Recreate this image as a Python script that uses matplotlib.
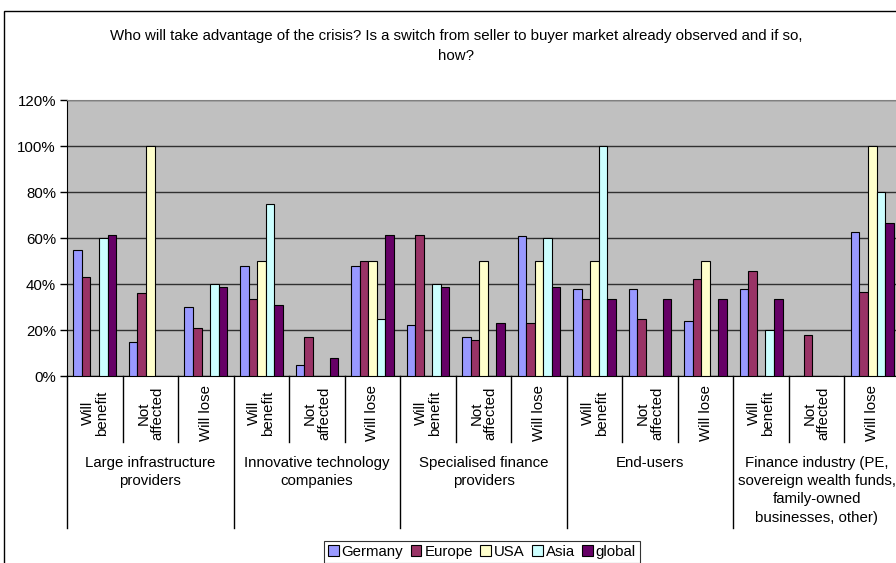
import matplotlib.pyplot as plt
import matplotlib.patches as mpatches
import matplotlib.transforms as mtransforms
import numpy as np

plt.rcParams['font.family'] = ['Liberation Sans', 'DejaVu Sans']

groups = ["Large infrastructure\nproviders", "Innovative technology\ncompanies",
          "Specialised finance\nproviders", "End-users",
          "Finance industry (PE,\nsovereign wealth funds,\nfamily-owned\nbusinesses, other)"]
answers = ["Will\nbenefit", "Not\naffected", "Will lose"]

# one value per (group, answer), in %
germany = [55, 15, 30, 48, 5, 48, 22, 17, 61, 38, 38, 24, 38, 0, 62.5]
europe = [43, 36, 21, 33.5, 17, 50, 61.5, 15.5, 23, 33.5, 25, 42, 45.5, 18, 36.5]
usa = [0, 100, 0, 50, 0, 50, 0, 50, 50, 50, 0, 50, 0, 0, 100]
asia = [60, 0, 40, 75, 0, 25, 40, 0, 60, 100, 0, 0, 20, 0, 80]
global_ = [61.5, 0, 38.5, 31, 8, 61.5, 38.5, 23, 38.5, 33.3, 33.3, 33.3, 33.3, 0, 66.7]

series = [("Germany", germany, "#9999FF"), ("Europe", europe, "#993366"),
          ("USA", usa, "#FFFFCC"), ("Asia", asia, "#CCFFFF"),
          ("global", global_, "#660066")]

W, H = 896, 563
FS = 10.8
fig = plt.figure(figsize=(W / 100, H / 100), dpi=100)

# outer chart border (runs past the right and bottom edge)
fig.patches.append(mpatches.Rectangle((4 / W, -0.2), 1.2, 1 - 11 / H + 0.2,
                                      transform=fig.transFigure, fill=False,
                                      edgecolor="black", lw=1.0))

ax = fig.add_axes([67 / W, 1 - 376 / H, 833 / W, 276 / H])
ax.set_facecolor("#C0C0C0")

n = len(germany)
x = np.arange(n)
w = 1 / 6.5
for j, (name, vals, col) in enumerate(series):
    ax.bar(x + (j - 2) * w, vals, w, color=col, edgecolor="black", lw=0.8,
           label=name, zorder=3)

ax.set_xlim(-0.5, n - 0.5)
ax.set_ylim(0, 120)
ax.set_yticks(range(0, 121, 20))
ax.set_yticklabels([f"{v}%" for v in range(0, 121, 20)], fontsize=FS)
ax.tick_params(axis="y", length=5, width=1, pad=3, direction="out")
ax.set_xticks([])
ax.yaxis.grid(True, color="#303030", lw=1)
ax.set_axisbelow(True)
for s in ["top", "right"]:
    ax.spines[s].set_color("#808080")
ax.spines["left"].set_color("black")
ax.spines["bottom"].set_color("black")

tr = mtransforms.blended_transform_factory(ax.transData, ax.transAxes)
sub_h = (442 - 376) / 276
grp_h = (528 - 376) / 276
for i in range(n + 1):
    depth = grp_h if i % 3 == 0 else sub_h
    ax.plot([i - 0.5, i - 0.5], [0, -depth], color="black", lw=1,
            transform=tr, clip_on=False)

for i in range(n):
    ax.text(i, -(413 - 376) / 276, answers[i % 3], transform=tr, rotation=90,
            ha="center", va="center", multialignment="center", fontsize=FS,
            linespacing=1.0)

for g, label in enumerate(groups):
    ax.text(g * 3 + 1, -(456 - 376) / 276, label, transform=tr, ha="center",
            va="top", fontsize=FS, linespacing=1.38)

fig.text(456 / W, 1 - 29 / H,
         "Who will take advantage of the crisis? Is a switch from seller to buyer market already observed and if so,\nhow?",
         ha="center", va="top", fontsize=FS, linespacing=1.55)

leg = fig.legend(loc="upper center", bbox_to_anchor=(482 / W, 1 - 541 / H),
                 ncol=5, fontsize=FS, frameon=True, fancybox=False,
                 edgecolor="black", handlelength=0.7, handleheight=0.7,
                 handletextpad=0.2, columnspacing=0.5, borderpad=0.25,
                 borderaxespad=0)
leg.get_frame().set_linewidth(0.8)

fig.savefig("out.png", dpi=100)
